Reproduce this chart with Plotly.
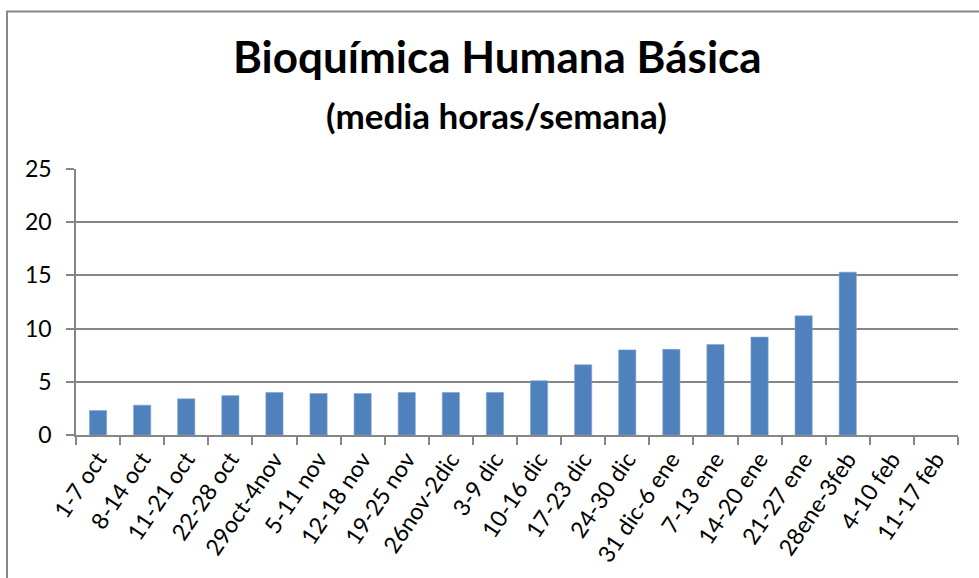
import plotly.graph_objects as go

weeks = ["1-7 oct", "8-14 oct", "11-21 oct", "22-28 oct", "29oct-4nov", "5-11 nov",
         "12-18 nov", "19-25 nov", "26nov-2dic", "3-9 dic", "10-16 dic", "17-23 dic",
         "24-30 dic", "31 dic-6 ene", "7-13 ene", "14-20 ene", "21-27 ene", "28ene-3feb",
         "4-10 feb", "11-17 feb"]
hours = [2.3, 2.8, 3.4, 3.7, 4.0, 3.9, 3.9, 4.0, 4.0, 4.0, 5.1, 6.6,
         8.0, 8.05, 8.5, 9.2, 11.2, 15.3, None, None]

title_text = "Bioquímica Humana Básica"
subtitle_text = "(media horas/semana)"

FONT = "Lato, Carlito, Calibri, sans-serif"
GRAY = "#868686"

fig = go.Figure(go.Bar(
    x=weeks, y=hours,
    marker=dict(color="#4F81BD", line=dict(color="#7FA3D0", width=0.6)),
))

W, H = 979, 578
L, R, T, B = 76, 21, 169, 143

fig.update_layout(
    width=W, height=H,
    margin=dict(l=L, r=R, t=T, b=B, pad=0),
    paper_bgcolor="white", plot_bgcolor="white",
    bargap=0.61,
    showlegend=False,
    font=dict(family=FONT, color="black"),
)

fig.update_xaxes(
    type="category",
    showline=True, linecolor=GRAY, linewidth=1.5,
    ticks="outside", ticklen=8, tickcolor=GRAY, tickwidth=1.5,
    tickson="boundaries",
    tickangle=-56,
    tickfont=dict(size=23, family=FONT, color="black"),
    showgrid=False,
)
fig.update_yaxes(
    range=[0, 25], dtick=5,
    showline=True, linecolor=GRAY, linewidth=1.5,
    ticks="outside", ticklen=8, tickcolor=GRAY, tickwidth=1.5,
    showgrid=True, gridcolor=GRAY, gridwidth=1.5,
    zeroline=False,
    tickfont=dict(size=23, family=FONT, color="black"),
    ticklabelstandoff=10,
)

pw, ph = W - L - R, H - T - B

def px_x(p):
    return (p - L) / pw

def px_y(p):
    return (H - B - p) / ph

fig.add_annotation(
    text="<b>" + title_text + "</b>", xref="paper", yref="paper",
    x=px_x(497), y=px_y(56), xanchor="center", yanchor="middle",
    showarrow=False, font=dict(size=44, family=FONT, color="black"),
)
fig.add_annotation(
    text="<b>" + subtitle_text + "</b>", xref="paper", yref="paper",
    x=px_x(496), y=px_y(115), xanchor="center", yanchor="middle",
    showarrow=False, font=dict(size=35, family=FONT, color="black"),
)

# chart outer border (cropped at right and bottom)
fig.add_shape(
    type="rect", xref="paper", yref="paper",
    x0=px_x(7), x1=px_x(1000), y0=px_y(600), y1=px_y(11.5),
    line=dict(color="#878787", width=2), fillcolor="rgba(0,0,0,0)", layer="above",
)

fig.write_html(
    "out.html",
    config={"displayModeBar": False},
    post_script="document.body.style.margin='0';document.body.style.overflow='hidden';",
)
